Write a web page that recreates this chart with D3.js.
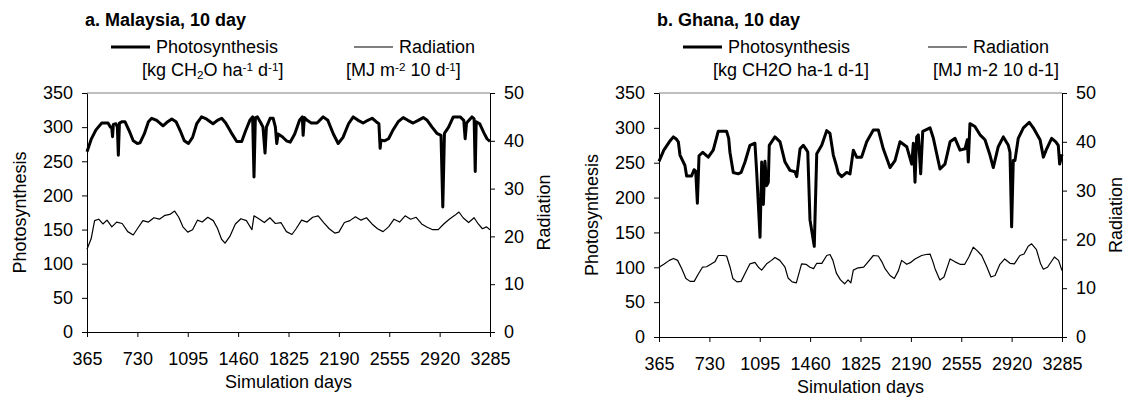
<!DOCTYPE html>
<html>
<head>
<meta charset="utf-8">
<script src="https://cdn.jsdelivr.net/npm/d3@7/dist/d3.min.js"></script>
<style>
  html, body { margin: 0; padding: 0; background: #fff; }
  svg { display: block; font-family: "Liberation Sans", Arial, sans-serif; }
</style>
</head>
<body>
<svg id="chart" width="1125" height="398"></svg>
<script>
// Simulation day ticks shared by both panels
const xTicks = [365, 730, 1095, 1460, 1825, 2190, 2555, 2920, 3285];
const photoTicks = [0, 50, 100, 150, 200, 250, 300, 350];
const radTicks = [0, 10, 20, 30, 40, 50];

// Malaysia: photosynthesis [kg CH2O ha-1 d-1]
const mDays = [365,395,430,472,517,535,544,550,556,575,585,592,600,620,640,670,700,730,749,780,810,834,870,916,950,979,1010,1040,1070,1100,1130,1160,1195,1230,1278,1310,1341,1370,1410,1450,1486,1515,1545,1565,1575,1585,1600,1625,1640,1655,1665,1692,1714,1730,1740,1750,1780,1810,1837,1870,1905,1925,1931,1940,1960,1990,2032,2076,2110,2150,2185,2220,2260,2294,2330,2366,2400,2431,2460,2480,2489,2495,2520,2550,2580,2620,2656,2690,2728,2765,2801,2830,2865,2900,2930,2943,2955,2985,3019,3069,3095,3105,3115,3154,3170,3178,3185,3210,3240,3263,3285];
const mPhoto = [264,282,296,306,306,300,300,286,304,305,300,259,306,308,308,295,280,276,277,290,308,313,310,302,308,312,308,295,280,276,285,305,315,312,305,310,313,306,292,279,279,295,310,315,227,314,315,306,300,262,300,313,313,300,276,290,286,280,278,290,310,315,288,314,310,306,306,315,310,290,276,285,305,315,310,306,310,313,308,305,269,281,280,283,295,308,314,310,306,310,314,310,300,291,288,183,291,300,315,315,310,283,306,315,312,235,308,305,292,283,279];

// Malaysia: radiation [MJ m-2 10 d-1]
const mRadDays = [365,395,420,450,480,510,545,580,620,660,700,730,770,810,850,890,930,965,1000,1030,1060,1095,1130,1165,1200,1240,1280,1310,1340,1365,1400,1440,1480,1520,1560,1575,1610,1650,1690,1730,1770,1810,1850,1880,1920,1960,2000,2040,2080,2120,2160,2190,2230,2270,2310,2350,2390,2430,2470,2510,2550,2590,2630,2670,2710,2750,2790,2830,2870,2910,2950,2990,3030,3060,3090,3130,3170,3200,3230,3260,3285];
const mRad = [17.3,19.5,23.3,23.6,22.6,23.4,22.0,23.0,22.7,21.0,20.3,21.6,23.3,23.0,23.9,23.6,24.4,24.6,25.3,24.0,22.0,20.9,21.4,23.4,23.0,24.0,23.3,21.7,19.4,18.6,20.0,22.6,23.7,23.3,21.4,24.3,23.7,22.9,23.9,22.7,22.9,21.0,20.4,21.6,23.4,23.0,24.0,24.3,22.9,21.6,20.7,20.9,22.9,23.3,24.1,23.4,23.9,22.6,21.6,21.0,22.0,23.6,23.0,24.3,23.6,24.0,22.6,21.9,21.4,21.4,22.6,23.6,24.4,25.1,23.9,22.9,23.9,22.6,21.6,22.0,21.4];

// Ghana: photosynthesis [kg CH2O ha-1 d-1]
const gDays = [365,400,440,469,490,505,517,553,565,601,619,631,643,655,682,722,758,794,855,870,879,903,939,960,988,1024,1060,1073,1097,1109,1121,1133,1145,1157,1164,1205,1242,1278,1314,1350,1363,1387,1411,1435,1443,1459,1490,1508,1544,1580,1604,1628,1650,1664,1689,1725,1749,1773,1797,1833,1870,1918,1954,1990,2039,2075,2111,2160,2196,2208,2220,2232,2244,2261,2276,2329,2353,2401,2437,2474,2510,2546,2582,2599,2606,2618,2654,2691,2727,2763,2787,2823,2860,2896,2908,2920,2932,2944,2968,3005,3048,3077,3126,3150,3174,3210,3240,3258,3268,3285];
const gPhoto = [252,268,280,287,284,280,261,246,231,231,240,238,192,260,265,258,268,295,295,285,265,236,234,236,251,275,278,236,143,251,190,252,217,222,275,287,280,251,239,237,230,270,275,268,265,168,130,263,275,296,292,261,246,235,230,236,234,268,258,258,280,297,297,270,243,253,280,273,248,278,222,287,290,234,295,300,285,241,248,280,285,268,270,283,251,306,302,290,283,261,243,273,287,275,265,158,253,253,285,300,308,300,283,258,270,285,280,275,248,262];

// Ghana: radiation [MJ m-2 10 d-1]
const gRadDays = [365,400,440,470,500,530,560,590,620,650,680,710,740,770,794,830,855,880,900,930,960,990,1024,1060,1085,1109,1145,1180,1205,1240,1278,1300,1330,1360,1398,1430,1459,1485,1508,1545,1580,1604,1625,1650,1680,1710,1735,1755,1773,1800,1848,1880,1918,1954,1980,2003,2039,2070,2100,2123,2160,2190,2220,2268,2300,2329,2350,2365,2400,2430,2474,2510,2546,2580,2610,2642,2670,2703,2740,2770,2800,2835,2870,2908,2940,2980,3010,3040,3065,3100,3130,3150,3180,3230,3260,3285];
const gRad = [14.3,14.9,15.7,16.1,15.7,14.0,12.0,11.4,11.4,12.9,14.3,14.4,14.9,15.4,16.7,16.7,16.6,14.3,12.0,11.3,11.4,13.1,15.0,15.3,14.3,13.7,15.0,15.7,16.3,15.7,14.3,12.1,11.3,11.1,15.0,14.9,14.3,14.0,15.1,15.1,16.7,16.9,15.7,13.1,11.7,10.9,11.7,11.1,13.7,14.1,14.3,15.4,16.7,16.6,15.4,14.0,12.6,12.0,13.6,15.7,14.9,15.3,16.0,16.7,16.9,17.0,15.4,14.0,11.7,12.3,16.0,15.4,14.9,14.9,16.4,18.4,17.7,16.7,14.4,12.3,12.6,14.9,16.0,15.1,15.0,16.7,17.0,18.6,19.1,17.9,15.0,13.9,14.3,16.4,15.7,13.6];

const svg = d3.select("#chart");
const FS = 18;

function drawPanel(p) {
  const x = d3.scaleLinear().domain([365, 3285]).range([p.left, p.right]);
  const yP = d3.scaleLinear().domain([0, 350]).range([p.bottom, p.top]);
  const yR = d3.scaleLinear().domain([0, 50]).range([p.bottom, p.top]);
  const g = svg.append("g");

  // top frame line of the plot area
  g.append("line")
    .attr("x1", p.left).attr("x2", p.right)
    .attr("y1", p.top).attr("y2", p.top)
    .attr("stroke", "#808080").attr("stroke-width", 1);

  const styleAxis = sel => {
    sel.selectAll("path").attr("stroke", "#000").attr("stroke-width", 1);
    sel.selectAll("line").attr("stroke", "#000").attr("stroke-width", 1);
    sel.selectAll("text").attr("fill", "#000")
      .style("font-size", FS + "px").style("font-family", "'Liberation Sans', Arial, sans-serif");
  };

  g.append("g").attr("transform", `translate(0,${p.bottom})`)
    .call(d3.axisBottom(x).tickValues(xTicks).tickSize(5).tickSizeOuter(0).tickPadding(15).tickFormat(d3.format("d")))
    .call(styleAxis);
  g.append("g").attr("transform", `translate(${p.left},0)`)
    .call(d3.axisLeft(yP).tickValues(photoTicks).tickSize(5).tickSizeOuter(0).tickPadding(9))
    .call(styleAxis);
  g.append("g").attr("transform", `translate(${p.right},0)`)
    .call(d3.axisRight(yR).tickValues(radTicks).tickSize(5).tickSizeOuter(0).tickPadding(9))
    .call(styleAxis);

  // series lines
  const photoLine = d3.line().x(d => x(d[0])).y(d => yP(d[1]));
  const radLine = d3.line().x(d => x(d[0])).y(d => yR(d[1]));
  g.append("path").datum(d3.zip(p.radDays, p.rad))
    .attr("d", radLine).attr("fill", "none").attr("stroke", "#000")
    .attr("stroke-width", 1.2).attr("stroke-linejoin", "round");
  g.append("path").datum(d3.zip(p.photoDays, p.photo))
    .attr("d", photoLine).attr("fill", "none").attr("stroke", "#000")
    .attr("stroke-width", 3).attr("stroke-linejoin", "round");

  // axis titles
  const midX = (p.left + p.right) / 2, midY = (p.top + p.bottom) / 2;
  g.append("text").attr("x", midX).attr("y", p.bottom + 56).attr("text-anchor", "middle")
    .style("font-size", FS + "px").text("Simulation days");
  g.append("text").attr("transform", `translate(${p.left - 61},${midY}) rotate(-90)`)
    .attr("text-anchor", "middle").style("font-size", FS + "px").text("Photosynthesis");
  g.append("text").attr("transform", `translate(${p.right + 60},${midY}) rotate(-90)`)
    .attr("text-anchor", "middle").style("font-size", FS + "px").text("Radiation");

  // panel title
  g.append("text").attr("x", p.left - 2).attr("y", 26)
    .style("font-size", FS + "px").style("font-weight", "bold").text(p.title);

  // legend
  const ly = 47;
  g.append("line").attr("x1", p.left + 24).attr("x2", p.left + 63).attr("y1", ly).attr("y2", ly)
    .attr("stroke", "#000").attr("stroke-width", 3);
  g.append("text").attr("x", p.left + 69).attr("y", ly + 6)
    .style("font-size", FS + "px").text("Photosynthesis");
  g.append("line").attr("x1", p.left + p.radLegX).attr("x2", p.left + p.radLegX + 39).attr("y1", ly).attr("y2", ly)
    .attr("stroke", "#000").attr("stroke-width", 1.2);
  g.append("text").attr("x", p.left + p.radLegX + 45).attr("y", ly + 6)
    .style("font-size", FS + "px").text("Radiation");

  // unit labels, with sub/superscripts where given
  const unit = (xPos, parts) => {
    const t = g.append("text").attr("x", xPos).attr("y", 76).style("font-size", FS + "px");
    parts.forEach(([s, kind]) => {
      const ts = t.append("tspan").text(s);
      if (kind === "sub") ts.attr("baseline-shift", "-25%").style("font-size", (FS * 0.65) + "px");
      if (kind === "sup") ts.attr("baseline-shift", "45%").style("font-size", (FS * 0.65) + "px");
    });
  };
  unit(p.left + p.unit1X, p.unit1);
  unit(p.left + p.unit2X, p.unit2);
}

drawPanel({
  left: 87, right: 490, top: 93, bottom: 332,
  title: "a. Malaysia, 10 day",
  photoDays: mDays, photo: mPhoto, radDays: mRadDays, rad: mRad,
  radLegX: 267, unit1X: 55, unit2X: 259,
  unit1: [["[kg CH"], ["2", "sub"], ["O ha"], ["-1", "sup"], [" d"], ["-1", "sup"], ["]"]],
  unit2: [["[MJ m"], ["-2", "sup"], [" 10 d"], ["-1", "sup"], ["]"]]
});

drawPanel({
  left: 659, right: 1062, top: 93, bottom: 337,
  title: "b. Ghana, 10 day",
  photoDays: gDays, photo: gPhoto, radDays: gRadDays, rad: gRad,
  radLegX: 269, unit1X: 54, unit2X: 274,
  unit1: [["[kg CH2O ha-1 d-1]"]],
  unit2: [["[MJ m-2 10 d-1]"]]
});
</script>
</body>
</html>
